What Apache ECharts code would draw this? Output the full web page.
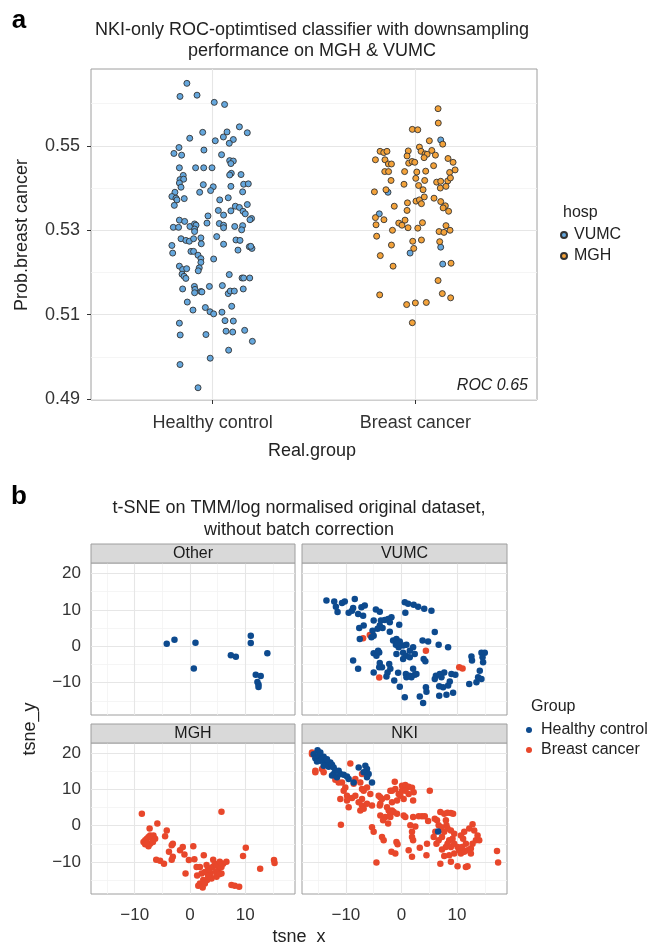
<!DOCTYPE html>
<html>
<head>
<meta charset="utf-8">
<script src="https://cdn.jsdelivr.net/npm/echarts@6/dist/echarts.min.js"></script>
<style>
html, body { margin: 0; padding: 0; background: #fff; }
#chart { width: 662px; height: 944px; }
</style>
</head>
<body>
<div id="chart"></div>
<script>
// ---------- panel a : jittered probabilities ----------
const aGroups = ['Healthy control', 'Breast cancer'];
const aTickA = [0.49, 0.51, 0.53, 0.55];
const aMinorA = [0.50, 0.52, 0.54, 0.56];

// Healthy control (all VUMC) : [jittered group position, Prob.breast cancer]
const aHcVumc = [
  [0.873,0.5648],[0.839,0.5617],[0.923,0.5620],[1.008,0.5603],[1.059,0.5598],[1.132,0.5545],[1.171,0.5531],[0.951,0.5532],
  [1.071,0.5533],[1.053,0.5521],[1.102,0.5515],[1.082,0.5506],[1.013,0.5512],[0.887,0.5518],[0.834,0.5496],[0.809,0.5482],
  [0.847,0.5478],[0.957,0.5490],[1.044,0.5479],[1.084,0.5465],[1.102,0.5464],[1.090,0.5458],[0.836,0.5448],[0.916,0.5448],
  [0.956,0.5448],[0.997,0.5448],[1.092,0.5435],[1.084,0.5431],[1.140,0.5432],[0.855,0.5430],[0.839,0.5420],[0.857,0.5421],
  [0.836,0.5412],[0.844,0.5402],[0.954,0.5408],[1.003,0.5403],[0.990,0.5394],[1.090,0.5404],[1.153,0.5409],[1.176,0.5410],
  [1.148,0.5391],[0.936,0.5390],[0.814,0.5390],[0.799,0.5380],[0.819,0.5376],[0.824,0.5372],[0.860,0.5375],[0.811,0.5359],
  [1.035,0.5372],[1.077,0.5377],[1.112,0.5357],[1.132,0.5354],[1.150,0.5345],[1.171,0.5361],[1.090,0.5346],[1.028,0.5347],
  [1.054,0.5336],[0.977,0.5334],[1.161,0.5339],[1.192,0.5328],[1.184,0.5325],[0.836,0.5324],[0.862,0.5321],[0.806,0.5307],
  [0.832,0.5307],[0.888,0.5309],[0.911,0.5315],[0.918,0.5312],[0.911,0.5303],[0.911,0.5297],[0.972,0.5317],[1.033,0.5316],
  [1.054,0.5312],[1.054,0.5306],[1.109,0.5309],[1.148,0.5311],[1.143,0.5301],[0.844,0.5280],[0.868,0.5276],[0.885,0.5274],
  [0.906,0.5280],[0.942,0.5282],[0.944,0.5268],[1.020,0.5285],[1.054,0.5267],[1.115,0.5277],[1.135,0.5276],[1.125,0.5253],
  [1.181,0.5261],[1.194,0.5257],[1.188,0.5262],[0.799,0.5264],[0.803,0.5246],[0.893,0.5250],[0.906,0.5250],[0.928,0.5241],
  [0.942,0.5233],[0.942,0.5224],[0.934,0.5211],[0.929,0.5204],[1.005,0.5232],[0.836,0.5215],[0.852,0.5207],[0.872,0.5209],
  [0.849,0.5196],[0.859,0.5191],[0.868,0.5186],[1.082,0.5195],[1.145,0.5187],[1.153,0.5187],[1.183,0.5187],[0.852,0.5161],
  [0.910,0.5167],[0.913,0.5160],[0.911,0.5152],[0.942,0.5155],[0.947,0.5154],[0.984,0.5167],[1.048,0.5169],[1.077,0.5150],
  [1.087,0.5156],[1.107,0.5156],[1.151,0.5161],[0.875,0.5130],[0.903,0.5111],[0.964,0.5117],[0.987,0.5107],[1.005,0.5102],
  [1.046,0.5106],[1.094,0.5120],[1.061,0.5086],[1.102,0.5085],[0.836,0.5080],[0.840,0.5052],[0.967,0.5053],[1.066,0.5061],
  [1.099,0.5059],[1.158,0.5063],[1.196,0.5037],[1.079,0.5016],[0.839,0.4982],[0.988,0.4997],[0.928,0.4927]
];
// Breast cancer, MGH
const aBcMgh = [
  [2.112,0.5588],[2.113,0.5554],[1.985,0.5539],[2.012,0.5538],[2.069,0.5512],[2.135,0.5504],[1.826,0.5487],[1.844,0.5484],
  [1.860,0.5487],[1.965,0.5488],[2.020,0.5497],[2.028,0.5487],[2.048,0.5481],[2.058,0.5480],[2.081,0.5489],[2.099,0.5478],
  [1.959,0.5476],[2.043,0.5472],[1.803,0.5467],[1.850,0.5467],[1.867,0.5457],[1.882,0.5457],[1.967,0.5459],[1.984,0.5463],
  [1.997,0.5461],[2.090,0.5453],[2.161,0.5470],[2.186,0.5461],[2.196,0.5443],[1.849,0.5439],[1.868,0.5439],[1.947,0.5439],
  [2.007,0.5438],[2.051,0.5440],[2.169,0.5437],[1.880,0.5418],[1.944,0.5409],[2.002,0.5423],[2.046,0.5418],[2.105,0.5414],
  [2.125,0.5416],[2.160,0.5417],[2.173,0.5424],[2.016,0.5406],[2.038,0.5396],[2.123,0.5400],[2.151,0.5404],[1.798,0.5391],
  [1.855,0.5396],[1.896,0.5357],[1.961,0.5365],[1.959,0.5347],[2.003,0.5369],[2.020,0.5372],[2.030,0.5363],[2.044,0.5379],
  [2.092,0.5376],[2.125,0.5368],[2.148,0.5358],[2.137,0.5353],[2.164,0.5345],[1.803,0.5330],[1.806,0.5313],[1.845,0.5325],
  [1.918,0.5317],[1.934,0.5312],[1.949,0.5324],[1.964,0.5306],[2.012,0.5305],[2.035,0.5318],[2.151,0.5311],[2.117,0.5297],
  [2.141,0.5295],[2.171,0.5300],[1.809,0.5286],[1.887,0.5300],[1.882,0.5265],[1.987,0.5274],[2.030,0.5277],[1.992,0.5257],
  [2.120,0.5273],[1.827,0.5240],[1.890,0.5215],[2.176,0.5222],[2.112,0.5181],[1.824,0.5147],[2.133,0.5150],[2.174,0.5140],
  [1.957,0.5124],[2.000,0.5128],[2.054,0.5129],[1.985,0.5081]
];
// Breast cancer, VUMC
const aBcVumc = [[2.125,0.5514],[1.865,0.5390],[1.822,0.5339],[1.974,0.5246],[2.125,0.5260],[2.135,0.5220]];

// ---------- panel b : t-SNE facets ----------
const aFacets = ['Other', 'VUMC', 'MGH', 'NKI'];
const aTickBx = [-10, 0, 10];
const aMinorBx = [-15, -5, 5, 15];
const aTickBy = [-10, 0, 10, 20];
const aMinorBy = [-15, -5, 5, 15];

const aOtherHc = [
  [-4.2,0.7],[-2.8,1.8],[1.0,1.0],[0.7,-6.1],[7.4,-2.5],[8.3,-2.9],[11.0,2.9],[11.0,0.9],[14.0,-1.9],
  [11.9,-7.8],[12.8,-8.2],[12.2,-9.8],[12.4,-10.5],[12.4,-11.2]
];
const aVumcHc = [
  [-13.5,12.6],[-12.1,12.3],[-11.8,10.9],[-11.5,9.4],[-10.7,11.9],[-10.2,12.3],[-9.5,9.2],[-8.9,9.8],[-8.4,13.0],[-8.7,10.5],
  [-7.8,8.9],[-7.2,10.7],[-6.6,11.2],[-6.9,8.4],[-4.6,10.1],[-3.9,9.5],[-5.0,7.1],[-3.7,7.1],[-3.0,7.2],[-2.4,7.5],
  [-1.8,8.0],[-2.1,6.6],[-6.8,5.7],[-7.6,5.0],[-3.9,5.7],[-4.3,4.8],[-3.4,5.0],[-0.4,5.9],[-5.2,4.3],[-5.4,2.5],
  [-5.0,2.9],[-2.1,4.0],[-7.5,2.0],[-1.5,1.6],[-0.9,2.0],[-0.3,1.3],[0.3,0.2],[0.9,0.4],[-0.5,-0.3],[-1.0,0.4],
  [-0.7,0.8],[0.3,-1.8],[1.5,-1.2],[2.1,-0.3],[2.4,-2.1],[0.8,-2.6],[0.3,-3.5],[-0.9,-2.1],[1.5,-3.0],[0.6,12.1],
  [1.2,11.7],[2.2,11.4],[3.0,10.9],[4.1,10.3],[5.4,9.8],[0.7,9.2],[6.0,3.9],[3.8,1.6],[4.8,1.3],[6.7,0.4],
  [8.4,-0.3],[-5.0,-1.9],[-4.5,-2.6],[-4.0,-1.7],[-4.2,-1.2],[-3.9,-4.6],[-4.0,-5.8],[-2.2,-4.9],[-2.0,-6.2],[-3.5,-5.8],
  [-8.7,-3.9],[-7.8,-6.2],[-5.0,-7.2],[-2.5,-7.2],[-2.7,-8.3],[-0.6,-7.3],[-1.3,-9.4],[-0.3,-11.1],[0.8,-7.6],[0.9,-8.5],
  [1.5,-8.1],[2.1,-6.2],[2.4,-7.8],[1.8,-8.5],[2.7,-7.6],[4.0,-3.5],[4.3,-4.1],[6.2,-8.1],[6.9,-7.6],[7.7,-7.2],
  [9.0,-7.6],[9.7,-7.8],[6.0,-9.0],[6.8,-11.0],[7.5,-11.3],[8.7,-9.7],[8.4,-10.8],[6.8,-13.6],[8.1,-13.3],[9.3,-12.8],
  [0.6,-14.0],[3.3,-13.8],[3.9,-15.6],[4.4,-11.3],[4.5,-12.5],[12.6,-2.8],[12.7,-3.9],[14.4,-1.8],[15.0,-1.8],[14.6,-3.0],
  [14.7,-4.4],[14.1,-6.7],[13.8,-8.5],[14.4,-9.0],[13.5,-9.9],[12.2,-10.4],[7.2,-8.5]
];
const aVumcBc = [[-6.9,2.2],[-5.7,3.1],[4.4,-1.2],[10.4,-5.8],[11.0,-6.1],[-4.0,-8.6]];
const aMghBc = [
  [-8.7,3.3],[-5.9,0.6],[-7.3,-0.8],[-4.2,-1.3],[-4.5,-2.9],[-8.4,-4.5],[-8.1,-4.0],[-7.8,-3.6],[-7.5,-3.1],[-7.2,-2.7],
  [-6.9,-3.3],[-6.6,-2.7],[-6.3,-3.6],[-8.1,-5.1],[-7.5,-5.7],[-7.2,-5.0],[-7.8,-4.8],[-6.7,-4.5],[-3.1,-5.0],[-3.3,-5.4],
  [-3.8,-7.2],[-3.1,-8.6],[-3.3,-9.4],[-1.8,-6.8],[-1.3,-5.9],[-1.0,-8.0],[0.6,-5.7],[-0.2,-9.5],[0.8,-9.3],[-6.1,-9.4],
  [-5.4,-9.7],[-4.7,-10.5],[2.5,-8.2],[5.7,3.9],[-0.8,-13.2],[1.2,-11.4],[1.8,-11.4],[1.3,-13.8],[2.1,-13.2],[3.0,-10.9],
  [3.3,-11.8],[2.7,-12.8],[3.6,-12.8],[4.2,-9.4],[4.5,-10.5],[4.1,-11.4],[4.8,-10.9],[5.4,-10.0],[6.0,-10.5],[6.6,-10.0],
  [5.7,-11.4],[5.1,-12.3],[5.7,-13.2],[4.8,-14.1],[3.9,-14.6],[3.1,-15.0],[2.4,-15.0],[1.8,-16.0],[1.5,-16.6],[2.3,-17.1],
  [2.7,-16.0],[3.7,-13.7],[3.3,-13.9],[4.7,-12.8],[5.3,-13.4],[7.5,-16.4],[8.1,-16.6],[8.9,-16.9],[9.6,-8.4],[10.1,-6.1],
  [12.7,-11.9],[15.2,-9.5],[15.3,-10.3]
];
const aNkiHc = [
  [-15.1,20.9],[-15.8,19.8],[-15.5,18.7],[-14.9,19.4],[-14.6,18.0],[-15.2,17.8],[-14.3,18.4],[-14.0,19.1],[-13.7,17.5],[-13.4,17.1],
  [-14.0,16.6],[-13.1,16.3],[-12.8,17.5],[-12.5,16.9],[-12.2,16.1],[-11.9,15.2],[-12.2,14.3],[-12.5,13.9],[-11.6,13.4],[-11.0,14.3],
  [-10.4,14.1],[-9.8,13.6],[-9.5,12.9],[-8.6,12.0],[-7.7,16.1],[-6.5,16.6],[-6.2,15.7],[-6.8,14.8],[-5.9,14.3],[-5.3,12.0],
  [-6.2,13.4],[-14.6,20.3],[-13.4,18.4],[-11.3,15.2],[6.6,-1.6]
];
const aNkiBc = [
  [-16.1,20.3],[-16.1,19.8],[-15.5,15.2],[-15.5,14.8],[-14.3,15.7],[-14.0,14.8],[-9.2,17.2],[-11.9,12.7],[-11.3,12.0],[-10.7,12.0],
  [-10.1,10.6],[-10.4,9.7],[-9.8,8.3],[-8.9,7.7],[-8.3,8.3],[-8.6,11.6],[-8.3,12.9],[-7.1,14.3],[-7.4,12.0],[-7.1,10.2],
  [-6.8,9.7],[-6.2,10.6],[-5.6,8.8],[-7.1,7.4],[-7.7,6.5],[-7.1,5.6],[-7.4,4.2],[-6.8,4.7],[-6.2,6.1],[-9.8,7.0],
  [-11.0,7.4],[-9.5,5.1],[-4.1,8.3],[-3.5,7.4],[-3.8,6.1],[-2.6,5.1],[-1.7,9.7],[-1.1,10.2],[-0.5,8.8],[0.1,9.7],
  [-0.2,8.3],[1.0,10.6],[0.4,7.4],[-1.7,6.5],[-2.3,4.2],[-0.8,3.3],[-1.4,3.8],[-2.9,2.4],[-2.0,2.4],[0.4,2.8],
  [-1.2,12.2],[0.1,11.1],[0.7,11.3],[1.3,10.8],[1.9,10.5],[2.2,9.3],[0.7,9.7],[1.3,8.8],[2.1,7.0],[5.1,9.7],
  [-0.8,7.0],[-2.0,9.7],[-2.6,7.9],[-3.8,7.9],[-3.9,5.6],[-5.3,5.6],[-5.3,-0.4],[-5.0,-1.7],[-3.5,-3.1],[-3.2,-4.0],
  [-3.8,2.8],[-3.3,1.5],[-2.1,2.8],[-2.4,0.6],[-1.7,4.2],[0.7,2.4],[2.1,2.4],[3.1,2.6],[3.7,2.6],[4.2,2.6],
  [4.8,1.3],[6.0,1.9],[6.4,1.5],[7.0,3.8],[7.7,3.3],[8.3,3.6],[8.9,3.5],[9.3,3.3],[8.0,1.5],[8.1,0.1],
  [1.6,0.1],[2.5,-0.2],[1.9,-1.7],[1.9,-3.1],[2.1,-4.0],[1.3,-6.8],[1.9,-8.6],[3.3,-6.1],[4.5,-8.2],[-0.9,-4.5],
  [-0.7,-5.1],[-1.8,-7.2],[-1.1,-7.7],[-4.5,-10.2],[-10.9,0.3],[5.8,-3.1],[6.3,-5.0],[6.7,-4.0],[7.3,-3.1],[7.7,-1.7],
  [8.3,-0.8],[8.9,-1.3],[9.5,-2.2],[9.2,-3.6],[8.6,-4.0],[8.3,-5.0],[8.0,-5.9],[8.9,-5.9],[9.5,-5.0],[10.1,-5.9],
  [10.4,-6.8],[10.7,-7.7],[11.3,-7.2],[11.9,-6.8],[12.5,-6.3],[12.8,-5.0],[13.4,-4.0],[14.0,-4.0],[13.7,-2.7],[13.1,-1.3],
  [12.8,0.4],[12.2,-0.8],[11.3,-1.7],[10.7,-2.7],[11.1,-3.6],[11.6,-5.0],[10.9,-5.9],[9.5,-7.7],[8.6,-8.2],[7.7,-8.4],
  [7.3,-6.6],[7.0,-10.5],[8.9,-10.0],[10.1,-11.2],[11.6,-11.4],[11.9,-11.2],[12.5,-7.7],[17.2,-7.0],[17.4,-10.2],[4.6,-5.0],
  [6.1,-1.7],[6.7,0.1],[7.2,-0.4]
];

// ---------- styles ----------
const sFont = '"Liberation Sans", Arial, Helvetica, sans-serif';
const cVumc = '#65a7dd', cMgh = '#f3a23a', cEdge = '#333333';
const cHc = '#0d4a8e', cBc = '#e8472b';
const cMajor = '#e6e6e6', cMinor = '#f2f2f2', cBorder = '#9e9e9e';
const cText = '#222222', cTick = '#333333';

const oChart = echarts.init(document.getElementById('chart'), null, { renderer: 'canvas' });

// grid boxes (pixels)
const aGridBox = [
  { left: 91, top: 69, width: 446, height: 331 },   // a
  { left: 91, top: 563, width: 204, height: 152 },  // Other
  { left: 302, top: 563, width: 205, height: 152 }, // VUMC
  { left: 91, top: 743, width: 204, height: 151 },  // MGH
  { left: 302, top: 743, width: 205, height: 151 }, // NKI
];

function gridLines(aXMaj, aXMin, aYMaj, aYMin) {
  const mk = (key, v, c, w) => ({ [key]: v, lineStyle: { color: c, width: w, type: 'solid' } });
  return {
    silent: true, symbol: ['none', 'none'], z: 1, animation: false,
    label: { show: false }, emphasis: { disabled: true },
    data: [
      ...aXMin.map(v => mk('xAxis', v, cMinor, 0.8)),
      ...aYMin.map(v => mk('yAxis', v, cMinor, 0.8)),
      ...aXMaj.map(v => mk('xAxis', v, cMajor, 1.1)),
      ...aYMaj.map(v => mk('yAxis', v, cMajor, 1.1)),
    ],
  };
}

const fmtMinus = v => (v < 0 ? '\u2212' + Math.abs(v) : String(v));

function axisB(gi, dim, bShow) {
  const isX = dim === 'x';
  const aTicks = isX ? aTickBx : aTickBy;
  return {
    type: 'value', gridIndex: gi,
    min: isX ? -17.9 : -18.9, max: isX ? 19.0 : 22.9,
    axisLine: { show: false },
    splitLine: { show: false },
    axisTick: { show: bShow, customValues: aTicks, length: 4, lineStyle: { color: '#333', width: 1 } },
    axisLabel: {
      show: bShow, customValues: aTicks, formatter: fmtMinus,
      fontFamily: sFont, fontSize: 17, color: cTick, margin: isX ? 13 : 10,
    },
  };
}

const aXAxes = [
  {
    type: 'value', gridIndex: 0, min: 0.4, max: 2.6,
    axisLine: { show: false }, splitLine: { show: false },
    axisTick: { customValues: [1, 2], length: 4, lineStyle: { color: '#333' } },
    axisLabel: {
      customValues: [1, 2], formatter: v => aGroups[Math.round(v) - 1],
      fontFamily: sFont, fontSize: 18, color: cTick, margin: 14,
    },
  },
  axisB(1, 'x', false), axisB(2, 'x', false), axisB(3, 'x', true), axisB(4, 'x', true),
];
const aYAxes = [
  {
    type: 'value', gridIndex: 0, min: 0.4898, max: 0.5682,
    axisLine: { show: false }, splitLine: { show: false },
    axisTick: { customValues: aTickA, length: 4, lineStyle: { color: '#333' } },
    axisLabel: {
      customValues: aTickA, formatter: v => v.toFixed(2),
      fontFamily: sFont, fontSize: 18, color: cTick, margin: 11,
    },
  },
  axisB(1, 'y', true), axisB(2, 'y', false), axisB(3, 'y', true), axisB(4, 'y', false),
];

function ptsA(name, data, color, withLines) {
  const o = {
    name, type: 'scatter', xAxisIndex: 0, yAxisIndex: 0, data,
    symbolSize: 6, z: 3,
    itemStyle: { color, borderColor: cEdge, borderWidth: 0.9, opacity: 1 },
    emphasis: { disabled: true },
  };
  if (withLines) o.markLine = gridLines([1, 2], [], aTickA, aMinorA);
  return o;
}
function ptsB(gi, name, data, color, withLines) {
  const o = {
    name, type: 'scatter', xAxisIndex: gi, yAxisIndex: gi, data,
    symbolSize: 6.5, z: 3,
    itemStyle: { color, opacity: 1 },
    emphasis: { disabled: true },
  };
  if (withLines) o.markLine = gridLines(aTickBx, aMinorBx, aTickBy, aMinorBy);
  return o;
}

const series = [
  ptsA('VUMC', aHcVumc.concat(aBcVumc), cVumc, true),
  ptsA('MGH', aBcMgh, cMgh, false),
  ptsB(1, 'Healthy control', aOtherHc, cHc, true),
  ptsB(2, 'Breast cancer', aVumcBc, cBc, true),
  ptsB(2, 'Healthy control', aVumcHc, cHc, false),
  ptsB(3, 'Breast cancer', aMghBc, cBc, true),
  ptsB(4, 'Breast cancer', aNkiBc, cBc, true),
  ptsB(4, 'Healthy control', aNkiHc, cHc, false),
];

// facet strips
const aStrips = [];
aFacets.forEach((sName, i) => {
  const b = aGridBox[i + 1];
  const y = i < 2 ? 544 : 724;
  aStrips.push({
    type: 'rect', silent: true, z: 10,
    shape: { x: b.left, y, width: b.width, height: 19 },
    style: { fill: '#d9d9d9', stroke: cBorder, lineWidth: 1 },
  });
  aStrips.push({
    type: 'text', silent: true, z: 11, x: b.left + b.width / 2, y: y + 10,
    style: { text: sName, font: '16px ' + sFont, fill: '#1a1a1a', textAlign: 'center', textVerticalAlign: 'middle' },
  });
});

function txt(s, x, y, size, opt = {}) {
  return {
    type: 'text', silent: true, z: 20, x, y, rotation: opt.rot || 0,
    style: {
      text: s, font: (opt.style || '') + ' ' + (opt.weight || 'normal') + ' ' + size + 'px ' + sFont,
      fill: opt.color || cText, textAlign: opt.align || 'center', textVerticalAlign: 'middle',
    },
  };
}

const aTexts = [
  txt('a', 19, 21, 26, { weight: 'bold', color: '#000' }),
  txt('NKI-only ROC-optimtised classifier with downsampling', 312, 30, 18),
  txt('performance on MGH & VUMC', 312, 51, 18),
  txt('Prob.breast cancer', 22, 235, 18, { rot: Math.PI / 2 }),
  txt('Real.group', 312, 451, 18),
  txt('ROC 0.65', 528, 386, 16, { style: 'italic', align: 'right' }),
  txt('hosp', 563, 213, 16, { align: 'left' }),
  txt('b', 19, 497, 26, { weight: 'bold', color: '#000' }),
  txt('t-SNE on TMM/log normalised original dataset,', 299, 508, 18),
  txt('without batch correction', 299, 530, 18),
  txt('tsne_y', 30, 729, 18, { rot: Math.PI / 2 }),
  txt('tsne_x', 299, 937, 18),
  txt('Group', 531, 707, 16, { align: 'left' }),
];

const option = {
  animation: false,
  backgroundColor: '#ffffff',
  textStyle: { fontFamily: sFont },
  grid: aGridBox.map(b => ({ ...b, show: true, borderColor: cBorder, borderWidth: 1, backgroundColor: 'transparent', containLabel: false })),
  xAxis: aXAxes,
  yAxis: aYAxes,
  legend: [
    {
      data: ['VUMC', 'MGH'], orient: 'vertical', left: 560, top: 227, padding: 0,
      itemWidth: 10, itemHeight: 6, itemGap: 5, icon: 'circle', selectedMode: false,
      textStyle: { fontFamily: sFont, fontSize: 16, color: cText, lineHeight: 16 },
    },
    {
      data: ['Healthy control', 'Breast cancer'], orient: 'vertical', left: 526, top: 722, padding: 0,
      itemWidth: 14, itemHeight: 6, itemGap: 4, icon: 'circle', selectedMode: false,
      textStyle: { fontFamily: sFont, fontSize: 16, color: cText, lineHeight: 16 },
    },
  ],
  graphic: aStrips.concat(aTexts),
  series,
};

oChart.setOption(option);
</script>
</body>
</html>
